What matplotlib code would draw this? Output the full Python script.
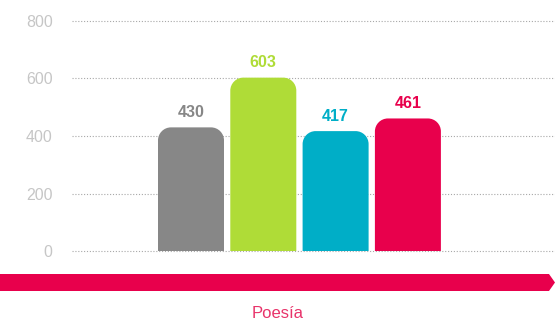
import numpy as np
import matplotlib.pyplot as plt
from matplotlib.path import Path
from matplotlib.patches import PathPatch, Polygon

plt.rcParams['font.family'] = ['Liberation Sans', 'DejaVu Sans']

valores = [430, 603, 417, 461]
colores = ['#878787', '#afdc37', '#00aec7', '#e8004c']
categoria = 'Poesía'
ticks_y = [0, 200, 400, 600, 800]

W, H = 555, 320
fig = plt.figure(figsize=(W / 100, H / 100), dpi=100)

# ejes en pixeles: izquierda 72, derecha 555, cero en y=251, 800 en y=21
x0, x1 = 72, 555
y_cero, y_top = 251, 21
ax = fig.add_axes([x0 / W, (H - y_cero) / H, (x1 - x0) / W, (y_cero - y_top) / H])

paso = 72.3
centro0 = 191
ax.set_xlim((x0 - centro0) / paso, (x1 - centro0) / paso)
ax.set_ylim(0, 800)

for t in ticks_y:
    ax.axhline(t, color='#a8a8a8', lw=0.8, ls=(0, (1, 1.6)), clip_on=False, zorder=0)

ax.set_yticks(ticks_y)
ax.set_yticklabels([str(t) for t in ticks_y])
ax.tick_params(axis='y', length=0, pad=14, labelsize=11.5, labelcolor='#c6c6c6')
ax.set_xticks([])
for s in ax.spines.values():
    s.set_visible(False)


def barra_redondeada(ax, xc, ancho, alto, color, radio_px=13):
    # esquinas superiores redondeadas con radios distintos en x e y
    px_x = paso
    px_y = (y_cero - y_top) / 800
    rx = radio_px / px_x
    ry = radio_px / px_y
    l, r = xc - ancho / 2, xc + ancho / 2
    k = 0.5523
    verts = [
        (l, 0), (l, alto - ry),
        (l, alto - ry + k * ry), (l + rx - k * rx, alto), (l + rx, alto),
        (r - rx, alto),
        (r - rx + k * rx, alto), (r, alto - ry + k * ry), (r, alto - ry),
        (r, 0), (l, 0),
    ]
    codes = [Path.MOVETO, Path.LINETO,
             Path.CURVE4, Path.CURVE4, Path.CURVE4,
             Path.LINETO,
             Path.CURVE4, Path.CURVE4, Path.CURVE4,
             Path.LINETO, Path.CLOSEPOLY]
    ax.add_patch(PathPatch(Path(verts, codes), facecolor=color, edgecolor='none', zorder=2))


ancho = 66 / paso
for i, (v, c) in enumerate(zip(valores, colores)):
    barra_redondeada(ax, i, ancho, v, c)
    ax.annotate(str(v), (i, v), xytext=(0, 7.5), textcoords='offset points',
                ha='center', va='baseline', fontsize=11.5, fontweight='bold', color=c)

# flecha rosa inferior
flecha = Polygon([(0, H - 274), (549, H - 274), (555, H - 282.5), (549, H - 291), (0, H - 291)],
                 closed=True, facecolor='#e8004c', edgecolor='none',
                 transform=None)
fig.patches.append(flecha)

fig.text(278 / W, 2 / H, categoria, ha='center', va='baseline', fontsize=12, color='#e8336a')

fig.savefig('out.png', dpi=100)
